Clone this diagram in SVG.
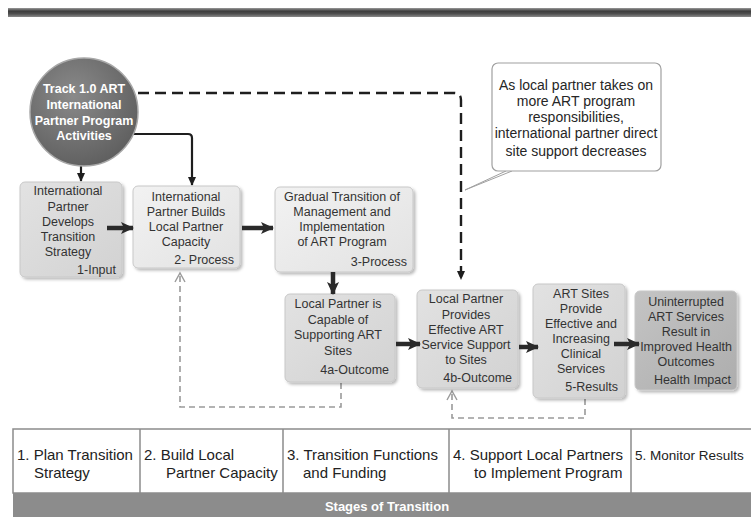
<svg xmlns="http://www.w3.org/2000/svg" width="751" height="517" viewBox="0 0 751 517">
  <defs>
    <linearGradient id="barGrad" x1="0" y1="0" x2="0" y2="1">
      <stop offset="0" stop-color="#9a9a9a"/>
      <stop offset="0.35" stop-color="#3c3c3c"/>
      <stop offset="0.65" stop-color="#505050"/>
      <stop offset="1" stop-color="#8a8a8a"/>
    </linearGradient>
    <radialGradient id="circleGrad" cx="0.4" cy="0.35" r="0.7">
      <stop offset="0" stop-color="#8a8a8a"/>
      <stop offset="1" stop-color="#5e5e5e"/>
    </radialGradient>
    <linearGradient id="boxLight" x1="0" y1="0" x2="1" y2="1">
      <stop offset="0" stop-color="#f2f2f2"/>
      <stop offset="1" stop-color="#e2e2e2"/>
    </linearGradient>
    <linearGradient id="boxMid" x1="0" y1="0" x2="1" y2="1">
      <stop offset="0" stop-color="#e2e2e2"/>
      <stop offset="1" stop-color="#d2d2d2"/>
    </linearGradient>
    <linearGradient id="boxDark" x1="0" y1="0" x2="1" y2="1">
      <stop offset="0" stop-color="#c4c4c4"/>
      <stop offset="1" stop-color="#adadad"/>
    </linearGradient>
    <filter id="shadow" x="-10%" y="-10%" width="125%" height="125%">
      <feDropShadow dx="2" dy="2" stdDeviation="1.6" flood-color="#000" flood-opacity="0.28"/>
    </filter>
    <marker id="thickHead" markerUnits="userSpaceOnUse" markerWidth="14" markerHeight="14" viewBox="0 0 14 14" refX="12" refY="7" orient="auto">
      <path d="M0,1 L13,7 L0,13 L3,7 Z" fill="#2a2a2a"/>
    </marker>
    <marker id="thinHead" markerUnits="userSpaceOnUse" markerWidth="10" markerHeight="10" viewBox="0 0 10 10" refX="8" refY="5" orient="auto">
      <path d="M0,1 L9,5 L0,9 Z" fill="#1e1e1e"/>
    </marker>
    <marker id="openHead" markerUnits="userSpaceOnUse" markerWidth="12" markerHeight="12" viewBox="0 0 12 12" refX="10" refY="6" orient="auto">
      <path d="M1,1 L10,6 L1,11" fill="none" stroke="#9a9a9a" stroke-width="1.4"/>
    </marker>
    <style>
      .box { stroke: #c8c8c8; stroke-width: 1; filter: url(#shadow); }
      .t { font-family: "Liberation Sans", Arial, sans-serif; font-size: 12.5px; fill: #333333; text-anchor: middle; }
      .tr { text-anchor: end; }
      .ct { font-family: "Liberation Sans", Arial, sans-serif; font-size: 12.5px; font-weight: bold; fill: #ffffff; text-anchor: middle; }
      .callout { font-family: "Liberation Sans", Arial, sans-serif; font-size: 14px; fill: #262626; text-anchor: middle; }
      .cell { font-family: "Liberation Sans", Arial, sans-serif; font-size: 15px; fill: #222222; }
      .cell.narrow { font-size: 13.5px; }
      .thick { fill: none; stroke: #2a2a2a; stroke-width: 4.5; }
      .solid { fill: none; stroke: #1e1e1e; stroke-width: 2.2; }
      .heavyDash { fill: none; stroke: #1e1e1e; stroke-width: 2.4; stroke-dasharray: 11 6; }
      .grayDash { fill: none; stroke: #9a9a9a; stroke-width: 1.6; stroke-dasharray: 6 4; }
    </style>
  </defs>

  <rect width="751" height="517" fill="#ffffff"/>

  <!-- header rule -->
  <rect x="8" y="8" width="743" height="9" fill="url(#barGrad)"/>

  <!-- connectors -->
  <g id="connectors">
    <path class="heavyDash" d="M138,93 H454 Q461,93 461,100 V279" marker-end="url(#thinHead)"/>
    <path class="solid" d="M81,152 V181" marker-end="url(#thinHead)"/>
    <path class="solid" d="M132,134 H188 Q192,134 192,138 V185" marker-end="url(#thinHead)"/>
    <path class="grayDash" d="M341,383 V407 H180 V273" marker-end="url(#openHead)"/>
    <path class="grayDash" d="M585,399 V418 H452 V391" marker-end="url(#openHead)"/>
    <!-- callout pointer -->
    <path d="M506,171 L465,190 L512,171" fill="#ffffff" stroke="#a0a0a0" stroke-width="1"/>
  </g>

  <!-- source circle -->
  <g id="node-track">
    <circle cx="84" cy="112" r="54" fill="url(#circleGrad)" stroke="#a8a8a8" stroke-width="1.5"/>
    <text class="ct" x="84" y="93">Track 1.0 ART</text>
    <text class="ct" x="84" y="109">International</text>
    <text class="ct" x="84" y="125">Partner Program</text>
    <text class="ct" x="84" y="140">Activities</text>
  </g>

  <g id="node-input">
    <rect class="box" x="20" y="182" width="102" height="95" rx="5" fill="url(#boxMid)"/>
    <text class="t" x="68" y="195">International</text>
    <text class="t" x="68" y="211">Partner</text>
    <text class="t" x="68" y="226">Develops</text>
    <text class="t" x="68" y="241">Transition</text>
    <text class="t" x="68" y="256">Strategy</text>
    <text class="t tr" x="116" y="274">1-Input</text>
  </g>

  <g id="node-process2">
    <rect class="box" x="133" y="186" width="107" height="82" rx="5" fill="url(#boxLight)"/>
    <text class="t" x="186" y="201">International</text>
    <text class="t" x="186" y="216">Partner Builds</text>
    <text class="t" x="186" y="231">Local Partner</text>
    <text class="t" x="186" y="246">Capacity</text>
    <text class="t tr" x="234" y="264">2- Process</text>
  </g>

  <g id="node-process3">
    <rect class="box" x="275" y="187" width="138" height="85" rx="5" fill="url(#boxLight)"/>
    <text class="t" x="342" y="201">Gradual Transition of</text>
    <text class="t" x="342" y="216">Management and</text>
    <text class="t" x="342" y="231">Implementation</text>
    <text class="t" x="342" y="246">of ART Program</text>
    <text class="t tr" x="407" y="266">3-Process</text>
  </g>

  <g id="node-outcome4a">
    <rect class="box" x="285" y="294" width="110" height="88" rx="5" fill="url(#boxMid)"/>
    <text class="t" x="338" y="308">Local Partner is</text>
    <text class="t" x="338" y="324">Capable of</text>
    <text class="t" x="338" y="339">Supporting ART</text>
    <text class="t" x="338" y="355">Sites</text>
    <text class="t tr" x="389" y="374">4a-Outcome</text>
  </g>

  <g id="node-outcome4b">
    <rect class="box" x="417" y="290" width="101" height="98" rx="5" fill="url(#boxMid)"/>
    <text class="t" x="466" y="303">Local Partner</text>
    <text class="t" x="466" y="319">Provides</text>
    <text class="t" x="466" y="334">Effective ART</text>
    <text class="t" x="466" y="349">Service Support</text>
    <text class="t" x="466" y="364">to Sites</text>
    <text class="t tr" x="512" y="382">4b-Outcome</text>
  </g>

  <g id="node-results">
    <rect class="box" x="533" y="284" width="92" height="114" rx="5" fill="url(#boxMid)"/>
    <text class="t" x="581" y="298">ART Sites</text>
    <text class="t" x="581" y="313">Provide</text>
    <text class="t" x="581" y="328">Effective and</text>
    <text class="t" x="581" y="343">Increasing</text>
    <text class="t" x="581" y="358">Clinical</text>
    <text class="t" x="581" y="373">Services</text>
    <text class="t tr" x="618" y="391">5-Results</text>
  </g>

  <g id="node-impact">
    <rect class="box" x="635" y="291" width="102" height="99" rx="5" fill="url(#boxDark)"/>
    <text class="t" x="686" y="306">Uninterrupted</text>
    <text class="t" x="686" y="321">ART Services</text>
    <text class="t" x="686" y="336">Result in</text>
    <text class="t" x="686" y="351">Improved Health</text>
    <text class="t" x="686" y="366">Outcomes</text>
    <text class="t tr" x="731" y="384">Health Impact</text>
  </g>

  <!-- flow arrows between stages -->
  <g id="flow-arrows">
    <path class="thick" d="M107,228 H133" marker-end="url(#thickHead)"/>
    <path class="thick" d="M242,228 H273" marker-end="url(#thickHead)"/>
    <path class="thick" d="M333,272 V294" marker-end="url(#thickHead)"/>
    <path class="thick" d="M396,344 H420" marker-end="url(#thickHead)"/>
    <path class="thick" d="M519,347 H538" marker-end="url(#thickHead)"/>
    <path class="thick" d="M614,344 H639" marker-end="url(#thickHead)"/>
  </g>

  <!-- note callout -->
  <g id="note">
    <rect x="492" y="63" width="169" height="108" rx="6" fill="#ffffff" stroke="#a0a0a0" stroke-width="1.2"/>
    <text class="callout" x="576" y="90">As local partner takes on</text>
    <text class="callout" x="576" y="106">more ART program</text>
    <text class="callout" x="576" y="122">responsibilities,</text>
    <text class="callout" x="576" y="138">international partner direct</text>
    <text class="callout" x="576" y="156">site support decreases</text>
  </g>

  <!-- stages table -->
  <g id="stages">
    <rect x="13" y="429" width="745" height="64" fill="#ffffff" stroke="#8c8c8c" stroke-width="1.5"/>
    <path d="M140,429 V493 M283,429 V493 M449,429 V493 M631,429 V493" stroke="#8c8c8c" stroke-width="1.5"/>
    <text class="cell" x="17" y="460">1. Plan Transition</text>
    <text class="cell" x="34" y="478">Strategy</text>
    <text class="cell" x="144" y="460">2. Build Local</text>
    <text class="cell" x="166" y="478">Partner Capacity</text>
    <text class="cell" x="287" y="460">3. Transition Functions</text>
    <text class="cell" x="303" y="478">and Funding</text>
    <text class="cell" x="453" y="460">4. Support Local Partners</text>
    <text class="cell" x="474" y="478">to Implement Program</text>
    <text class="cell narrow" x="635" y="460">5. Monitor Results</text>
    <rect x="13" y="493" width="745" height="24" fill="#8c8c8c"/>
    <text x="387" y="511" font-family="Liberation Sans, Arial, sans-serif" font-size="13px" font-weight="bold" fill="#ffffff" text-anchor="middle">Stages of Transition</text>
  </g>
</svg>
